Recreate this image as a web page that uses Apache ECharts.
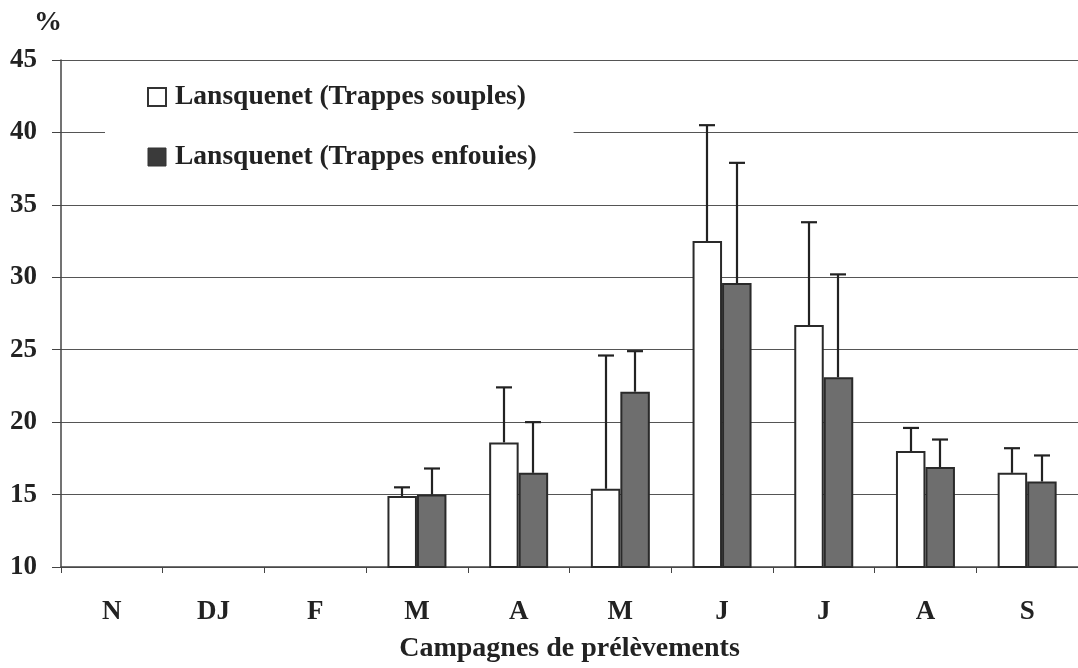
<!DOCTYPE html>
<html>
<head>
<meta charset="utf-8">
<script src="https://cdn.jsdelivr.net/npm/echarts@6/dist/echarts.min.js"></script>
<style>
  html, body { margin: 0; padding: 0; background: #fff; }
  #chart { width: 1078px; height: 668px; }
</style>
</head>
<body>
<div id="chart"></div>
<script>
// Sampling campaigns (months)
const categories = ['N', 'DJ', 'F', 'M', 'A', 'M', 'J', 'J', 'A', 'S'];

// Mean values (%) and upper end of the error bar, per trap type
const souplesMean = [null, null, null, 14.9, 18.6, 15.4, 32.5, 26.7, 18.0, 16.5];
const souplesTop  = [null, null, null, 15.5, 22.4, 24.6, 40.5, 33.8, 19.6, 18.2];
const enfouiesMean = [null, null, null, 15.0, 16.5, 22.1, 29.6, 23.1, 16.9, 15.9];
const enfouiesTop  = [null, null, null, 16.8, 20.0, 24.9, 37.9, 30.2, 18.8, 17.7];

const seriesNames = ['Lansquenet (Trappes souples)', 'Lansquenet (Trappes enfouies)'];
const yTicks = { min: 10, max: 45, step: 5 };

const FONT = '"Liberation Serif", "DejaVu Serif", serif';
const INK = '#222';
const BAR_RATIO = 0.29;

function errorData(means, tops) {
  const out = [];
  means.forEach((m, i) => {
    if (m != null && tops[i] != null) out.push([i, m, tops[i]]);
  });
  return out;
}

// Upper error bar with a cap, placed over one bar of the pair (side -1 left, +1 right)
function errorRenderer(side) {
  return function (params, api) {
    const idx = api.value(0);
    const base = api.coord([idx, api.value(1)]);
    const top = api.coord([idx, api.value(2)]);
    const band = api.size([1, 0])[0];
    const x = Math.round(base[0] + side * band * BAR_RATIO / 2);
    const cap = 8;
    const style = { stroke: INK, lineWidth: 2.2 };
    return {
      type: 'group',
      children: [
        { type: 'line', shape: { x1: x, y1: base[1], x2: x, y2: top[1] }, style },
        { type: 'line', shape: { x1: x - cap, y1: top[1], x2: x + cap, y2: top[1] }, style }
      ]
    };
  };
}

const chart = echarts.init(document.getElementById('chart'));
chart.setOption({
  backgroundColor: '#fff',
  animation: false,
  grid: { left: 61, right: -5, top: 60, bottom: 100 },
  graphic: [{
    type: 'text', left: 34, top: 9,
    style: { text: '%', font: 'bold 28px ' + FONT, fill: INK }
  }],
  legend: {
    orient: 'vertical',
    left: 105,
    top: 70,
    padding: [12, 37, 12, 42],
    backgroundColor: '#fff',
    itemWidth: 18,
    itemHeight: 18,
    itemGap: 30,
    icon: 'rect',
    textStyle: {
      fontFamily: FONT, fontWeight: 'bold', fontSize: 27.5, color: INK,
      lineHeight: 30, padding: [0, 0, 0, 4]
    },
    data: [
      { name: seriesNames[0], itemStyle: { color: '#fff', borderColor: '#333', borderWidth: 2 } },
      { name: seriesNames[1], itemStyle: { color: '#3a3a3a', borderColor: '#333', borderWidth: 1 } }
    ],
    z: 10
  },
  xAxis: {
    type: 'category',
    data: categories,
    boundaryGap: true,
    axisLine: { lineStyle: { color: '#444', width: 1.5 } },
    axisTick: { show: true, length: 6, lineStyle: { color: '#444' } },
    axisLabel: { fontFamily: FONT, fontWeight: 'bold', fontSize: 27, color: INK, margin: 32 },
    name: 'Campagnes de prélèvements',
    nameLocation: 'middle',
    nameGap: 68,
    nameTextStyle: { fontFamily: FONT, fontWeight: 'bold', fontSize: 28, color: INK }
  },
  yAxis: {
    type: 'value',
    min: yTicks.min,
    max: yTicks.max,
    interval: yTicks.step,
    axisLine: { show: true, lineStyle: { color: '#444', width: 1.5 } },
    axisTick: { show: true, length: 9, lineStyle: { color: '#444' } },
    axisLabel: { fontFamily: FONT, fontWeight: 'bold', fontSize: 27, color: INK, margin: 24 },
    splitLine: { show: true, lineStyle: { color: '#555', width: 1.2 } }
  },
  series: [
    {
      name: seriesNames[0],
      type: 'bar',
      data: souplesMean,
      barWidth: (BAR_RATIO * 100) + '%',
      barGap: '0%',
      itemStyle: { color: '#fff', borderColor: '#2a2a2a', borderWidth: 2 }
    },
    {
      name: seriesNames[1],
      type: 'bar',
      data: enfouiesMean,
      barWidth: (BAR_RATIO * 100) + '%',
      barGap: '0%',
      itemStyle: { color: '#6e6e6e', borderColor: '#2a2a2a', borderWidth: 2 }
    },
    {
      name: 'err-souples',
      type: 'custom',
      renderItem: errorRenderer(-1),
      data: errorData(souplesMean, souplesTop),
      encode: { x: 0, y: [1, 2] },
      z: 5
    },
    {
      name: 'err-enfouies',
      type: 'custom',
      renderItem: errorRenderer(1),
      data: errorData(enfouiesMean, enfouiesTop),
      encode: { x: 0, y: [1, 2] },
      z: 5
    }
  ]
});
</script>
</body>
</html>
